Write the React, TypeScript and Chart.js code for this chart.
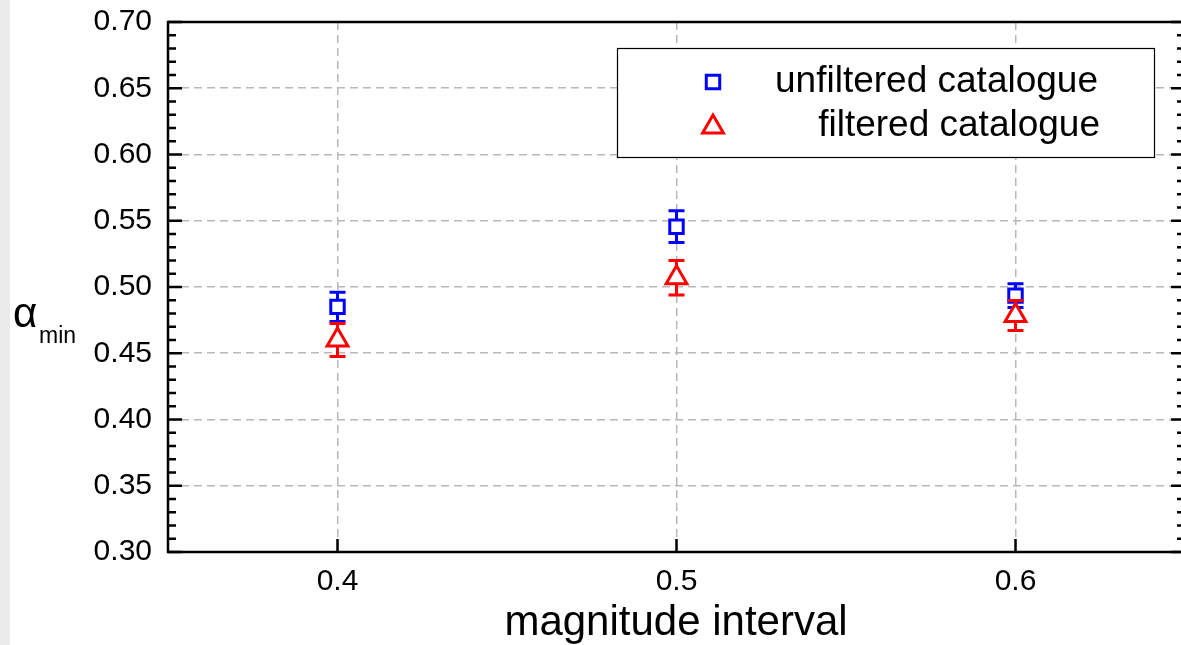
import React, { useEffect, useRef } from "react";
import { Chart, registerables } from "chart.js";

Chart.register(...registerables);

const magnitudeIntervals = [0.4, 0.5, 0.6];
const unfilteredAlpha = [0.485, 0.5455, 0.4935];
const unfilteredError = [0.011, 0.012, 0.009];
const filteredAlpha = [0.46, 0.507, 0.4785];
const filteredError = [0.0125, 0.013, 0.0113];
const yTickValues = [0.3, 0.35, 0.4, 0.45, 0.5, 0.55, 0.6, 0.65, 0.7];
const xTickValues = [0.4, 0.5, 0.6];
const seriesLabels = ["unfiltered catalogue", "filtered catalogue"];
const xAxisTitle = "magnitude interval";
const yAxisSymbol = "α";
const yAxisSubscript = "min";

const FONT = "'Liberation Sans', Arial, Helvetica, sans-serif";
const BLUE = "#0000ff";
const RED = "#ff0000";
const SQUARE_R = 9.5;
const TRI_R = 12;
const valueSets = [unfilteredAlpha, filteredAlpha];
const errorSets = [unfilteredError, filteredError];

function drawSquare(ctx: CanvasRenderingContext2D, x: number, y: number, r: number) {
  const s = r * Math.SQRT1_2;
  ctx.beginPath();
  ctx.rect(x - s, y - s, 2 * s, 2 * s);
  ctx.stroke();
}
function drawTriangle(ctx: CanvasRenderingContext2D, x: number, y: number, r: number) {
  ctx.beginPath();
  ctx.moveTo(x, y - r);
  ctx.lineTo(x + r * Math.sin(Math.PI / 3), y + r / 2);
  ctx.lineTo(x - r * Math.sin(Math.PI / 3), y + r / 2);
  ctx.closePath();
  ctx.stroke();
}

const errorBarPlugin = {
  id: "errorBars",
  afterDatasetDraw(chart: any, args: any) {
    const idx = args.index;
    const ctx = chart.ctx;
    const ys = chart.scales.y;
    const meta = args.meta;
    const color = idx === 0 ? BLUE : RED;
    const r = idx === 0 ? SQUARE_R : TRI_R;
    const gapUp = idx === 0 ? r * Math.SQRT1_2 : r;
    const gapDown = idx === 0 ? r * Math.SQRT1_2 : r / 2;
    ctx.save();
    ctx.strokeStyle = color;
    ctx.lineWidth = 3;
    meta.data.forEach((el: any, i: number) => {
      const v = valueSets[idx][i];
      const e = errorSets[idx][i];
      const yTop = ys.getPixelForValue(v + e);
      const yBot = ys.getPixelForValue(v - e);
      const x = el.x;
      ctx.beginPath();
      ctx.moveTo(x, yTop);
      ctx.lineTo(x, el.y - gapUp);
      ctx.moveTo(x, el.y + gapDown);
      ctx.lineTo(x, yBot);
      ctx.moveTo(x - 8, yTop);
      ctx.lineTo(x + 8, yTop);
      ctx.moveTo(x - 8, yBot);
      ctx.lineTo(x + 8, yBot);
      ctx.stroke();
    });
    ctx.restore();
  },
};

const decorPlugin = {
  id: "decor",
  beforeDraw(chart: any) {
    const ctx = chart.ctx;
    ctx.save();
    ctx.fillStyle = "#ffffff";
    ctx.fillRect(0, 0, chart.width, chart.height);
    ctx.restore();
  },
  afterDraw(chart: any) {
    const ctx = chart.ctx;
    const a = chart.chartArea;
    const xs = chart.scales.x;
    const ys = chart.scales.y;
    ctx.save();
    ctx.strokeStyle = "#000";
    ctx.lineWidth = 2.5;
    ctx.strokeRect(a.left, a.top, a.right - a.left, a.bottom - a.top);
    ctx.beginPath();
    for (let k = 0; k <= 40; k++) {
      const v = 0.3 + k * 0.01;
      const y = ys.getPixelForValue(v);
      const len = k % 5 === 0 ? 14 : 8;
      ctx.moveTo(a.left, y);
      ctx.lineTo(a.left + len, y);
      ctx.moveTo(a.right, y);
      ctx.lineTo(a.right - len, y);
    }
    xTickValues.forEach((v) => {
      const x = xs.getPixelForValue(v);
      ctx.moveTo(x, a.bottom);
      ctx.lineTo(x, a.bottom - 13);
    });
    ctx.stroke();

    ctx.fillStyle = "#000";
    ctx.textAlign = "center";
    ctx.textBaseline = "alphabetic";
    ctx.font = `42px ${FONT}`;
    ctx.fillText(xAxisTitle, 676, 635);
    ctx.textAlign = "left";
    ctx.font = `42px ${FONT}`;
    ctx.fillText(yAxisSymbol, 13, 327);
    ctx.font = `23px ${FONT}`;
    ctx.fillText(yAxisSubscript, 39, 343);

    // legend box with white fill
    ctx.fillStyle = "#ffffff";
    ctx.fillRect(617.5, 48.5, 537, 109);
    ctx.lineWidth = 1.2;
    ctx.strokeStyle = "#000";
    ctx.strokeRect(617.5, 48.5, 537, 109);
    ctx.lineWidth = 3;
    ctx.strokeStyle = BLUE;
    drawSquare(ctx, 713, 82, SQUARE_R);
    ctx.strokeStyle = RED;
    drawTriangle(ctx, 713, 127, TRI_R);
    ctx.font = `37px ${FONT}`;
    ctx.textAlign = "right";
    ctx.textBaseline = "middle";
    ctx.fillStyle = "#000";
    ctx.fillText(seriesLabels[0], 1098, 82);
    ctx.fillText(seriesLabels[1], 1100, 126);
    ctx.restore();
  },
};

export default function App() {
  const ref = useRef<HTMLCanvasElement | null>(null);
  useEffect(() => {
    if (!ref.current) return;
    const chart = new Chart(ref.current, {
      type: "scatter",
      data: {
        datasets: [
          {
            label: seriesLabels[0],
            data: magnitudeIntervals.map((x, i) => ({ x, y: unfilteredAlpha[i] })),
            pointStyle: "rect",
            pointRadius: SQUARE_R,
            borderColor: BLUE,
            backgroundColor: "#ffffff",
            borderWidth: 3,
            showLine: false,
            order: 1,
          },
          {
            label: seriesLabels[1],
            data: magnitudeIntervals.map((x, i) => ({ x, y: filteredAlpha[i] })),
            pointStyle: "triangle",
            pointRadius: TRI_R,
            borderColor: RED,
            backgroundColor: "#ffffff",
            borderWidth: 3,
            showLine: false,
            order: 0,
          },
        ],
      },
      options: {
        responsive: false,
        animation: false,
        devicePixelRatio: 1,
        events: [],
        layout: { autoPadding: false, padding: { top: 22, right: 5, left: 0, bottom: 0 } },
        plugins: { legend: { display: false }, tooltip: { enabled: false } },
        scales: {
          x: {
            type: "linear",
            min: 0.35,
            max: 0.65,
            afterBuildTicks: (s: any) => {
              s.ticks = xTickValues.map((v) => ({ value: v }));
            },
            afterFit: (s: any) => {
              s.height = 93;
              s.paddingLeft = 0;
              s.paddingRight = 0;
            },
            ticks: {
              font: { size: 30, family: FONT },
              color: "#000",
              padding: 12,
              callback: (v: any) => Number(v).toFixed(1),
            },
            grid: { color: "#b8b8b8", lineWidth: 1.5, drawTicks: false },
            border: { display: false, dash: [8, 5] },
          },
          y: {
            type: "linear",
            min: 0.3,
            max: 0.7,
            afterBuildTicks: (s: any) => {
              s.ticks = yTickValues.map((v) => ({ value: v }));
            },
            afterFit: (s: any) => {
              s.width = 168;
              s.paddingTop = 0;
              s.paddingBottom = 0;
            },
            ticks: {
              font: { size: 30, family: FONT },
              color: "#000",
              padding: 16,
              callback: (v: any) => Number(v).toFixed(2),
            },
            grid: { color: "#b8b8b8", lineWidth: 1.5, drawTicks: false },
            border: { display: false, dash: [8, 5] },
          },
        },
      },
      plugins: [errorBarPlugin, decorPlugin],
    } as any);
    return () => chart.destroy();
  }, []);
  return (
    <div
      style={{
        position: "fixed",
        left: 0,
        top: 0,
        width: 1181,
        height: 645,
        overflow: "hidden",
        background: "#ffffff",
      }}
    >
      <canvas ref={ref} width={1190} height={645} style={{ display: "block" }} />
      <div
        style={{
          position: "absolute",
          left: 0,
          top: 0,
          width: 10,
          height: 645,
          background: "#ebebeb",
        }}
      />
    </div>
  );
}
